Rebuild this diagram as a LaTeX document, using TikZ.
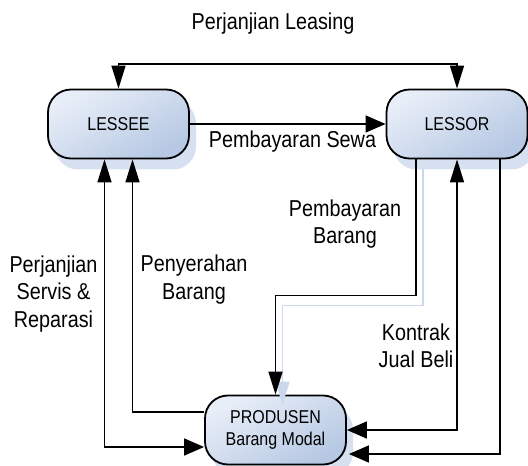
\documentclass[tikz,border=0pt]{standalone}
\usepackage{fontspec}
\setmainfont{Liberation Sans}[FakeStretch=0.86]
\usetikzlibrary{arrows.meta,shadows}
\definecolor{boxtop}{HTML}{E8EEF8}
\definecolor{boxbot}{HTML}{B6C8E3}
\definecolor{shadowc}{HTML}{D6E0F0}
\definecolor{lineshadow}{HTML}{CAD7EC}
\tikzset{
  party/.style={draw=black, line width=1.8bp, rounded corners=23bp,
    minimum width=141bp, minimum height=69bp, inner sep=0pt,
    top color=boxtop, bottom color=boxbot, shading angle=30,
    drop shadow={shadow xshift=7bp, shadow yshift=-11bp, fill=shadowc, opacity=1},
    font=\fontsize{18.6bp}{21.5bp}\selectfont, align=center},
  flow/.style={line width=1.5bp, draw=black},
  lbl/.style={font=\fontsize{23bp}{27.5bp}\selectfont, align=center, inner sep=0pt},
  vtip/.tip={Triangle[length=23bp 0 0,width=14bp 0 0]},
  htip/.tip={Triangle[length=20bp 0 0,width=17bp 0 0]},
}
\begin{document}
\begin{tikzpicture}[x=1bp,y=-1bp]
\useasboundingbox (0,0) rectangle (528,466);
\clip (0,0) rectangle (528,466);
\fill[white] (0,0) rectangle (528,466);

\node[party] (LE) at (118.5,124) {LESSEE};
\node[party] (LO) at (457,124) {LESSOR};
\node[party] (PR) at (275.5,430) {PRODUSEN\\Barang Modal};

% Perjanjian Leasing
\coordinate (lt) at (118.5,64);
\draw[flow,{vtip}-{vtip}] (LE.north) -- (LE.north |- lt) -| (LO.north);
% Pembayaran Sewa
\draw[flow,-{htip}] (LE.east) -- (LO.west);
% Perjanjian Servis & Reparasi
\coordinate (sv) at (104.5,447);
\draw[flow,{vtip}-{htip}] (LE.south -| sv) -- (sv) -- (PR.west |- sv);
% Penyerahan Barang
\coordinate (pn) at (132.5,412);
\draw[flow,-{vtip}] (PR.west |- pn) -- (pn) -- (LE.south -| pn);
% Pembayaran Barang (with shadow)
\coordinate (pb) at (416,295.5);
\draw[line width=1.5bp, draw=lineshadow, -{vtip},
  transform canvas={xshift=7bp,yshift=-10bp}]
  (LO.south -| pb) -- (pb) -| (PR.north);
\draw[flow,-{vtip}] (LO.south -| pb) -- (pb) -| (PR.north);
% Kontrak Jual Beli
\draw[flow,{vtip}-{htip}] (LO.south) |- (PR.east);
% rightmost
\coordinate (rr) at (500,454);
\draw[flow,-{htip},shorten >=2bp] (LO.south -| rr) -- (rr) -- (PR.east |- rr);

% labels
\node[lbl, anchor=base] (tl) at (273,30) {Perjanjian Leasing};
\node[lbl, anchor=base] (sw) at (292.5,148) {Pembayaran Sewa};
\node[lbl, anchor=base] (pbl) at (345,244) {Pembayaran\\Barang};
\node[lbl, anchor=base] (pnl) at (194,299) {Penyerahan\\Barang};
\node[lbl, anchor=base] (svl) at (53.5,327) {Perjanjian\\Servis \&\\Reparasi};
\node[lbl, anchor=base] (kjl) at (416,367.7) {Kontrak\\Jual Beli};
\end{tikzpicture}
\end{document}
